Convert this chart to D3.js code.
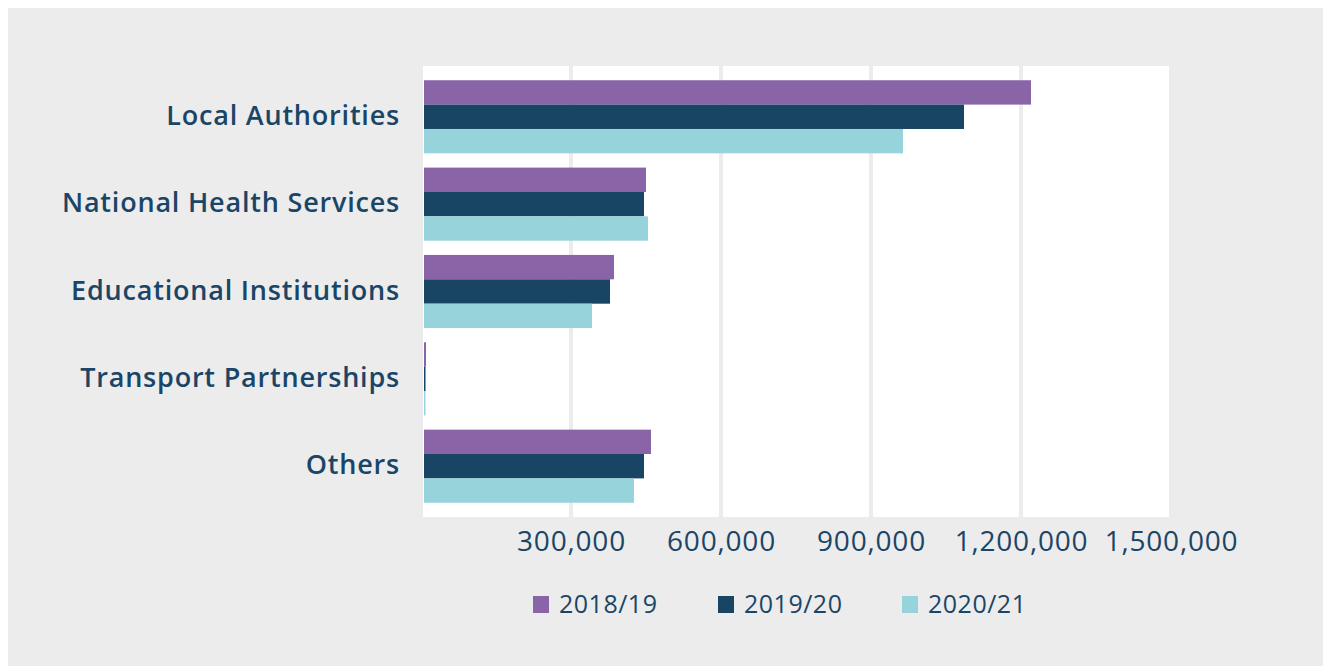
<!DOCTYPE html>
<html>
<head>
<meta charset="utf-8">
<script src="https://cdn.jsdelivr.net/npm/d3@7/dist/d3.min.js"></script>
<style>
  html, body { margin: 0; padding: 0; background: #ffffff; }
  svg { display: block; }
</style>
</head>
<body>
<svg id="chart" width="1323" height="666"></svg>
<script>
// Spend by organisation type across three financial years
const categories = ["Local Authorities", "National Health Services", "Educational Institutions", "Transport Partnerships", "Others"];
const seriesNames = ["2018/19", "2019/20", "2020/21"];
const values2018 = [1220000, 450000, 386000, 10000, 460000];
const values2019 = [1086000, 446000, 378000, 9000, 446000];
const values2020 = [964000, 454000, 342000, 9000, 426000];
const tickValues = [0, 300000, 600000, 900000, 1200000, 1500000];
const tickLabels = ["", "300,000", "600,000", "900,000", "1,200,000", "1,500,000"];

const seriesValues = [values2018, values2019, values2020];
const colors = ["#8965a8", "#184563", "#97d3db"];
const textColor = "#1b4566";
const bg = "#ececec";

const svg = d3.select("#chart");
const W = 1323, H = 666;

// panel background
svg.append("rect").attr("x", 8).attr("y", 8).attr("width", W - 8).attr("height", H - 8).attr("fill", bg);

const x = d3.scaleLinear().domain([0, 1500000]).range([421, 1171]);
const y = d3.scaleBand().domain(categories).range([66, 517]).padding(0.163);
const ySub = d3.scaleBand().domain(seriesNames).range([0, y.bandwidth()]);

// plot area
svg.append("rect")
  .attr("x", x(0)).attr("y", y.range()[0])
  .attr("width", x(1500000) - x(0)).attr("height", y.range()[1] - y.range()[0])
  .attr("fill", "#ffffff");

// vertical gridlines
svg.append("g").selectAll("line").data(tickValues).join("line")
  .attr("x1", d => x(d)).attr("x2", d => x(d))
  .attr("y1", y.range()[0]).attr("y2", y.range()[1])
  .attr("stroke", bg).attr("stroke-width", 4);

// bars
const rows = [];
categories.forEach((c, i) => {
  seriesNames.forEach((s, j) => rows.push({ cat: c, series: s, value: seriesValues[j][i], color: colors[j] }));
});
svg.append("g").selectAll("rect").data(rows).join("rect")
  .attr("x", x(0) + 3)
  .attr("y", d => y(d.cat) + ySub(d.series))
  .attr("width", d => Math.max(0, x(d.value) - x(0) - 3))
  .attr("height", ySub.bandwidth())
  .attr("fill", d => d.color);

// category labels
svg.append("g").selectAll("text").data(categories).join("text")
  .attr("x", 400)
  .attr("y", d => y(d) + y.bandwidth() / 2 + 8)
  .attr("text-anchor", "end")
  .attr("font-family", "'Open Sans', sans-serif")
  .attr("font-weight", 600)
  .attr("font-size", 27)
  .attr("letter-spacing", 0.8)
  .attr("fill", textColor)
  .text(d => d);

// x axis tick labels
const xAxis = d3.axisBottom(x).tickValues(tickValues).tickFormat((d, i) => tickLabels[i]).tickSize(0).tickPadding(0);
const gx = svg.append("g").attr("transform", "translate(0,551)").call(xAxis);
gx.select(".domain").remove();
gx.selectAll("text")
  .attr("y", 0).attr("dy", 0)
  .attr("font-family", "'Open Sans', sans-serif")
  .attr("font-size", 28)
  .attr("letter-spacing", 0.8)
  .attr("fill", textColor);

// legend
const legendX = [533, 718, 902];
const lg = svg.append("g").selectAll("g").data(seriesNames).join("g")
  .attr("transform", (d, i) => `translate(${legendX[i]},596)`);
lg.append("rect").attr("width", 16).attr("height", 17).attr("fill", (d, i) => colors[i]);
lg.append("text")
  .attr("x", 26).attr("y", 17)
  .attr("font-family", "'Open Sans', sans-serif")
  .attr("font-size", 25)
  .attr("letter-spacing", 0.5)
  .attr("fill", textColor)
  .text(d => d);
</script>
</body>
</html>
